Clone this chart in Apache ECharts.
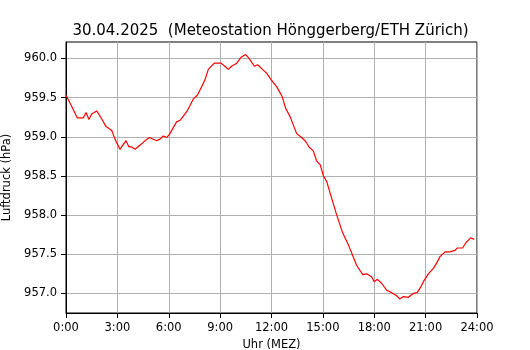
<!DOCTYPE html>
<html>
<head>
<meta charset="utf-8">
<script src="https://cdn.jsdelivr.net/npm/echarts@6/dist/echarts.min.js"></script>
<style>html,body{margin:0;padding:0;background:#fff}#c{width:530px;height:350px}</style>
</head>
<body>
<div id="c"></div>
<script>
const titleText = '30.04.2025  (Meteostation Hönggerberg/ETH Zürich)';
const xLabel = 'Uhr (MEZ)';
const yLabel = 'Luftdruck (hPa)';
const hours = [0.00,0.33,0.66,1.01,1.17,1.34,1.50,1.79,2.08,2.34,2.67,2.86,3.15,3.50,3.68,3.83,4.03,4.42,4.67,4.87,5.29,5.49,5.68,5.88,6.07,6.27,6.46,6.66,7.05,7.43,7.67,7.92,8.12,8.31,8.66,9.05,9.28,9.48,9.67,9.97,10.22,10.49,10.69,11.00,11.19,11.43,11.72,11.97,12.30,12.63,12.83,13.08,13.47,13.76,14.00,14.19,14.44,14.64,14.85,15.03,15.22,15.51,15.81,16.16,16.49,16.97,17.33,17.56,17.85,18.00,18.18,18.43,18.73,19.02,19.31,19.48,19.70,19.99,20.28,20.51,20.71,20.87,21.16,21.45,21.65,21.84,22.13,22.42,22.72,22.85,23.16,23.36,23.63,23.84];
const pressure = [959.53,959.39,959.24,959.24,959.31,959.22,959.29,959.33,959.23,959.13,959.08,958.97,958.84,958.95,958.87,958.87,958.84,958.91,958.96,958.99,958.95,958.97,959.01,958.99,959.04,959.12,959.19,959.21,959.32,959.48,959.53,959.64,959.73,959.86,959.94,959.94,959.90,959.86,959.90,959.94,960.015,960.05,960.00,959.90,959.92,959.87,959.81,959.73,959.64,959.51,959.36,959.26,959.04,958.99,958.94,958.87,958.82,958.69,958.64,958.50,958.43,958.22,958.00,957.77,957.62,957.36,957.24,957.25,957.21,957.15,957.18,957.13,957.04,957.01,956.97,956.93,956.96,956.95,957.00,957.01,957.08,957.15,957.25,957.32,957.39,957.47,957.53,957.53,957.55,957.58,957.58,957.65,957.71,957.69];
const yTicks = [957.0,957.5,958.0,958.5,959.0,959.5,960.0];
const xTicks = [0,3,6,9,12,15,18,21,24];

const font = 'DejaVu Sans';
const data = hours.map((h,i)=>[h,pressure[i]]);
const chart = echarts.init(document.getElementById('c'), null, {renderer:'canvas'});
chart.setOption({
  animation:false,
  backgroundColor:'#fff',
  title:{text:titleText,left:265.5,textAlign:'center',top:19,textStyle:{fontFamily:font,fontSize:15,fontWeight:'normal',color:'#000'}},
  grid:{left:66,right:53,top:42,bottom:37,containLabel:false,outerBoundsMode:'none',show:true,borderColor:'#000',borderWidth:1,backgroundColor:'transparent'},
  xAxis:{type:'value',min:0,max:24,interval:3,
    name:xLabel,nameLocation:'middle',nameGap:26,nameTextStyle:{fontFamily:font,fontSize:11.5,color:'#000'},
    axisLine:{show:true,onZero:false,lineStyle:{color:'#000',width:1}},
    axisTick:{show:true,inside:false,length:5,lineStyle:{color:'#000'},customValues:xTicks},
    axisLabel:{margin:9,fontFamily:font,fontSize:11.5,color:'#000',customValues:xTicks,formatter:v=>v+':00'},
    splitLine:{show:true,lineStyle:{color:'#b0b0b0',width:1}}},
  yAxis:{type:'value',min:956.75,max:960.21,
    name:yLabel,nameLocation:'middle',nameGap:52,nameTextStyle:{fontFamily:font,fontSize:11.5,color:'#000'},
    axisLine:{show:true,onZero:false,lineStyle:{color:'#000',width:1}},
    axisTick:{show:true,inside:false,length:5,lineStyle:{color:'#000'},customValues:yTicks},
    axisLabel:{margin:9,fontFamily:font,fontSize:11.5,color:'#000',customValues:yTicks,formatter:v=>v.toFixed(1),showMinLabel:true,showMaxLabel:true},
    splitLine:{show:true,lineStyle:{color:'#b0b0b0',width:1}}},
  series:[{type:'line',data:data,showSymbol:false,symbol:'none',lineStyle:{color:'#ff0000',width:1.2},smooth:false}]
});
</script>
</body>
</html>
